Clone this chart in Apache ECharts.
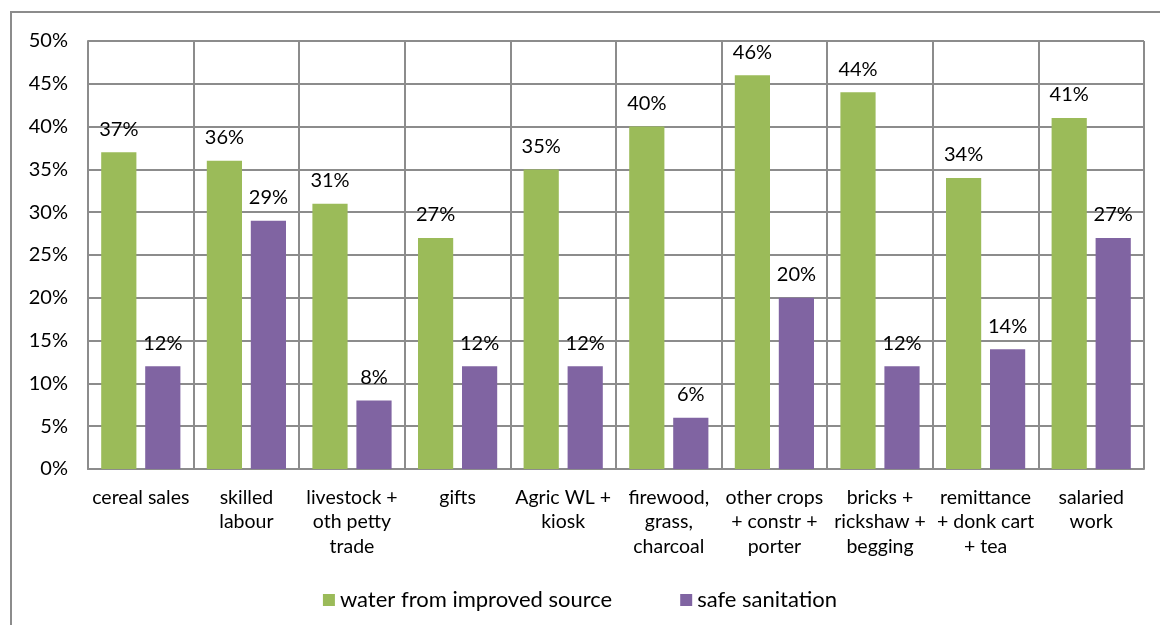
<!DOCTYPE html>
<html>
<head>
<meta charset="utf-8">
<script src="https://cdn.jsdelivr.net/npm/echarts@6/dist/echarts.min.js"></script>
<style>
  html, body { margin: 0; padding: 0; background: #fff; }
  #frame { position: absolute; left: 10px; top: 11px; width: 1160px; height: 630px; border: 2px solid #8c8c8c; box-sizing: border-box; }
  #chart { position: absolute; left: 0; top: 0; width: 1160px; height: 625px; }
</style>
</head>
<body>
<div id="frame"></div>
<div id="chart"></div>
<script>
const categories = ['cereal sales', 'skilled\nlabour', 'livestock +\noth petty\ntrade', 'gifts',
  'Agric WL +\nkiosk', 'firewood,\ngrass,\ncharcoal', 'other crops\n+ constr +\nporter',
  'bricks +\nrickshaw +\nbegging', 'remittance\n+ donk cart\n+ tea', 'salaried\nwork'];
const water = [37, 36, 31, 27, 35, 40, 46, 44, 34, 41];
const sanitation = [12, 29, 8, 12, 12, 6, 20, 12, 14, 27];
const seriesNames = ['water from improved source', 'safe sanitation'];

const font = 'Lato, "Open Sans", sans-serif';
const chart = echarts.init(document.getElementById('chart'));

const labelStyle = {
  show: true,
  position: 'top',
  distance: 13,
  formatter: '{c}%',
  color: '#000',
  fontSize: 20,
  fontFamily: font,
};

const option = {
  animation: false,
  color: ['#9BBB59', '#8064A2'],
  legend: {
    top: 584,
    left: 'center',
    itemWidth: 12,
    itemHeight: 12,
    itemGap: 68,
    icon: 'rect',
    textStyle: { fontSize: 22, fontFamily: font, color: '#000' },
    data: seriesNames,
  },
  grid: {
    left: 88,
    right: 16,
    top: 41,
    bottom: 156,
  },
  xAxis: {
    type: 'category',
    data: categories,
    axisTick: { show: false },
    axisLine: { lineStyle: { color: '#8c8c8c', width: 2 } },
    splitLine: { show: true, lineStyle: { color: '#8c8c8c', width: 2 } },
    axisLabel: {
      interval: 0,
      margin: 16,
      fontSize: 19.5,
      lineHeight: 24.5,
      color: '#000',
      fontFamily: font,
    },
  },
  yAxis: {
    type: 'value',
    min: 0,
    max: 50,
    interval: 5,
    axisLine: { show: true, lineStyle: { color: '#8c8c8c', width: 2 } },
    axisTick: { show: false },
    splitLine: { lineStyle: { color: '#8c8c8c', width: 2 } },
    axisLabel: {
      formatter: '{value}%',
      fontSize: 20,
      color: '#000',
      fontFamily: font,
      margin: 20,
    },
  },
  series: [
    {
      name: seriesNames[0],
      type: 'bar',
      data: water,
      barGap: '25%',
      barCategoryGap: '25%',
      label: labelStyle,
    },
    {
      name: seriesNames[1],
      type: 'bar',
      data: sanitation,
      label: labelStyle,
    },
  ],
};
chart.setOption(option);
</script>
</body>
</html>
